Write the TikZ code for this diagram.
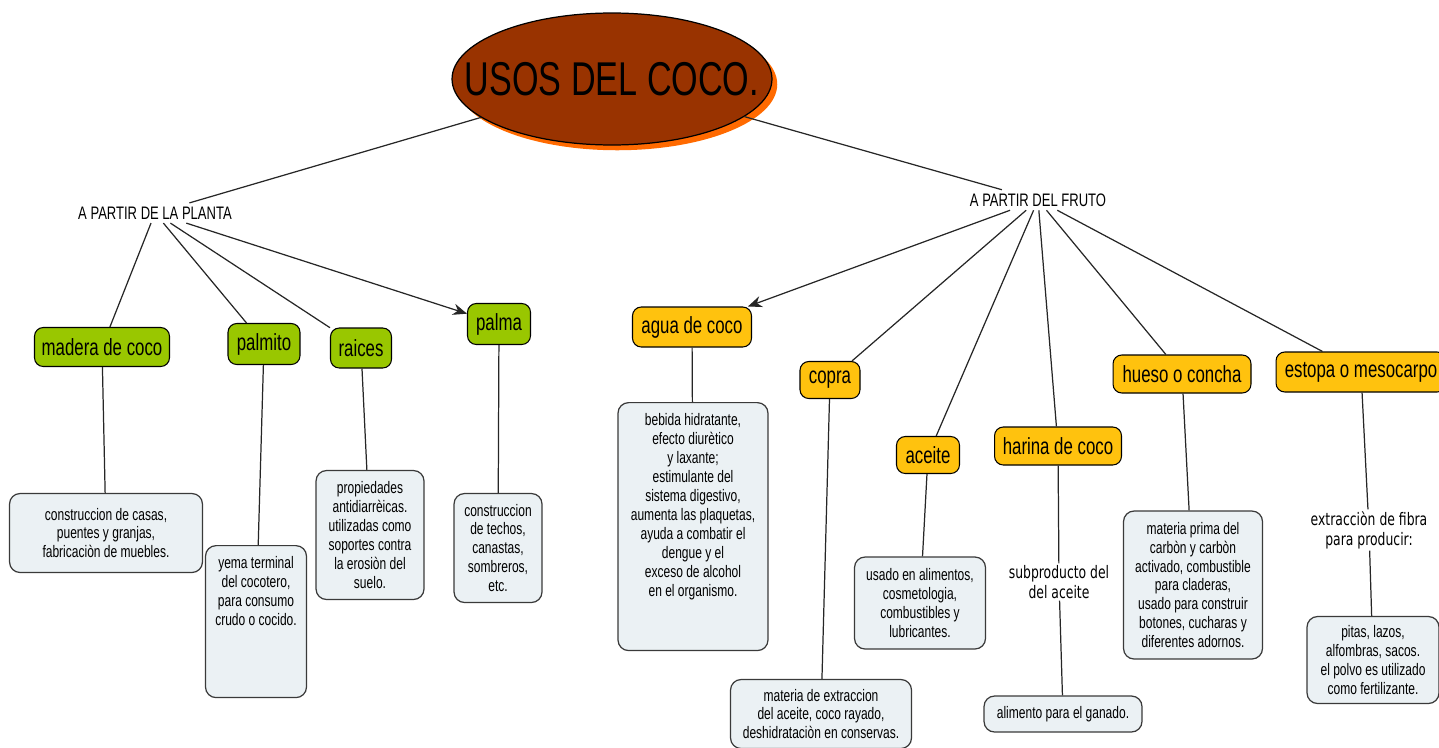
\documentclass[tikz,border=0pt]{standalone}
\usepackage{fontspec}
\setmainfont[FakeStretch=0.72]{Liberation Sans}
\newfontfamily\widefont[FakeStretch=0.72]{DejaVu Sans}
\usetikzlibrary{arrows.meta,shapes.geometric,shadows}

\definecolor{cocobrown}{HTML}{993300}
\definecolor{cocoshadow}{HTML}{FF6A00}
\definecolor{plantgreen}{HTML}{99C700}
\definecolor{fruitgold}{HTML}{FFC20E}
\definecolor{notefill}{HTML}{EBF1F4}
\definecolor{noteline}{HTML}{3A3A3A}

\newcommand{\topnote}[3]{\parbox[c][#2][t]{#1}{\centering\vspace*{6pt}#3}}

\tikzset{
    plantbox/.style={draw=black, fill=plantgreen, rounded corners=5pt, line width=0.6pt,
        inner sep=0pt, font=\fontsize{13.3}{15}\selectfont},
    fruitbox/.style={plantbox, fill=fruitgold},
    notebox/.style={draw=noteline, fill=notefill, rounded corners=6pt, line width=0.7pt,
        inner sep=0pt, align=center, font=\fontsize{9.5}{10.8}\selectfont},
    heading/.style={inner sep=2pt, font=\fontsize{10.3}{12}\selectfont},
    subtext/.style={inner sep=1pt, align=center, font=\widefont\fontsize{9.8}{11.3}\selectfont},
    link/.style={draw=black!85, line width=0.7pt},
    pointer/.style={link, -{Stealth[length=8pt,width=6.5pt]}},
}

\begin{document}
\begin{tikzpicture}[x=0.02cm, y=-0.02cm]
    \useasboundingbox (0,0) rectangle (1439,747);
    \clip (0,0) rectangle (1439,747);

    % title
    \node [ellipse, draw=black, fill=cocobrown, line width=0.7pt, inner sep=0pt,
        minimum width=6.4cm, minimum height=2.64cm,
        drop shadow={shadow xshift=3pt, shadow yshift=-3pt, fill=cocoshadow, opacity=1}] (title) at (612,79) {};
    \node [inner sep=0pt, font=\fontsize{27}{30}\selectfont] (titleTxt) at (title) {USOS DEL COCO.};

    \node [heading] (plant) at (155,213) {A PARTIR DE LA PLANTA};
    \node [heading] (fruit) at (1038,200) {A PARTIR DEL FRUTO};

    % plant side
    \node [plantbox, minimum width=2.7cm, minimum height=0.78cm] (madera) at (102,347) {madera de coco};
    \node [plantbox, minimum width=1.44cm, minimum height=0.82cm] (palmito) at (264,344) {palmito};
    \node [plantbox, minimum width=1.22cm, minimum height=0.8cm] (raices) at (361,348) {raices};
    \node [plantbox, minimum width=1.26cm, minimum height=0.82cm] (palma) at (499,324) {palma};

    \node [notebox, minimum width=3.86cm, minimum height=1.58cm] (maderaTxt) at (106,533)
        {construccion de casas,\\puentes y granjas,\\fabricaciòn de muebles.};
    \node [notebox, anchor=north] (palmitoTxt) at (256,545)
        {\topnote{2.02cm}{3.04cm}{yema terminal\\del cocotero,\\para consumo\\crudo o cocido.}};
    \node [notebox, minimum width=2.16cm, minimum height=2.58cm] (raicesTxt) at (370,535)
        {propiedades\\antidiarrèicas.\\utilizadas como\\soportes contra\\la erosiòn del\\suelo.};
    \node [notebox, minimum width=1.76cm, minimum height=2.18cm] (palmaTxt) at (498,548)
        {construccion\\de techos,\\canastas,\\sombreros,\\etc.};

    % fruit side
    \node [fruitbox, minimum width=2.38cm, minimum height=0.8cm] (agua) at (692,327) {agua de coco};
    \node [fruitbox, minimum width=1.2cm, minimum height=0.74cm] (copra) at (830,380) {copra};
    \node [fruitbox, minimum width=1.26cm, minimum height=0.74cm] (aceite) at (928,455) {aceite};
    \node [fruitbox, minimum width=2.54cm, minimum height=0.76cm] (harina) at (1058,446) {harina de coco};
    \node [fruitbox, minimum width=2.76cm, minimum height=0.76cm] (hueso) at (1182,374) {hueso o concha};
    \node [fruitbox, minimum width=3.4cm, minimum height=0.8cm] (estopa) at (1361,372) {estopa o mesocarpo};

    \node [notebox, anchor=north] (aguaTxt) at (693,402)
        {\topnote{3.0cm}{4.96cm}{bebida hidratante,\\efecto diurètico\\y laxante;\\estimulante del\\sistema digestivo,\\aumenta las plaquetas,\\ayuda a combatir el\\dengue y el\\exceso de alcohol\\en el organismo.}};
    \node [notebox, minimum width=3.62cm, minimum height=1.38cm] (copraTxt) at (821,714)
        {materia de extraccion\\del aceite, coco rayado,\\deshidrataciòn en conservas.};
    \node [notebox, minimum width=2.62cm, minimum height=1.84cm] (aceiteTxt) at (920,603)
        {usado en alimentos,\\cosmetologia,\\combustibles y\\lubricantes.};
    \node [subtext] (harinaSub) at (1059,582) {subproducto del\\del aceite};
    \node [notebox, minimum width=3.16cm, minimum height=0.72cm] (harinaTxt) at (1063,714)
        {alimento para el ganado.};
    \node [notebox, minimum width=2.78cm, minimum height=2.96cm] (huesoTxt) at (1193,585)
        {materia prima del\\carbòn y carbòn\\activado, combustible\\para claderas,\\usado para construir\\botones, cucharas y\\diferentes adornos.};
    \node [subtext] (estopaSub) at (1369,530) {extracciòn de fibra\\para producir:};
    \node [notebox, minimum width=2.64cm, minimum height=1.74cm] (estopaTxt) at (1373,660)
        {pitas, lazos,\\alfombras, sacos.\\el polvo es utilizado\\como fertilizante.};

    % connectors
    \draw [link] (title) -- (plant);
    \draw [link] (title) -- (fruit);

    \draw [link] (plant) -- (madera);
    \draw [link] (plant) -- (palmito);
    \draw [link] (plant) -- (raices);
    \draw [pointer] (plant) -- (palma);

    \draw [pointer] (fruit) -- (agua);
    \draw [link] (fruit) -- (copra);
    \draw [link] (fruit) -- (aceite);
    \draw [link] (fruit) -- (harina);
    \draw [link] (fruit) -- (hueso);
    \draw [link] (fruit) -- (estopa);

    \draw [link] (madera) -- (maderaTxt);
    \draw [link] (palmito) -- (palmitoTxt);
    \draw [link] (raices) -- (raicesTxt);
    \draw [link] (palma) -- (palmaTxt);
    \draw [link] (agua) -- (aguaTxt);
    \draw [link] (copra) -- (copraTxt);
    \draw [link] (aceite) -- (aceiteTxt);
    \draw [link] (harina) -- (harinaSub);
    \draw [link] (harinaSub) -- (harinaTxt);
    \draw [link] (hueso) -- (huesoTxt);
    \draw [link] (estopa) -- (estopaSub);
    \draw [link] (estopaSub) -- (estopaTxt);

\end{tikzpicture}
\end{document}
